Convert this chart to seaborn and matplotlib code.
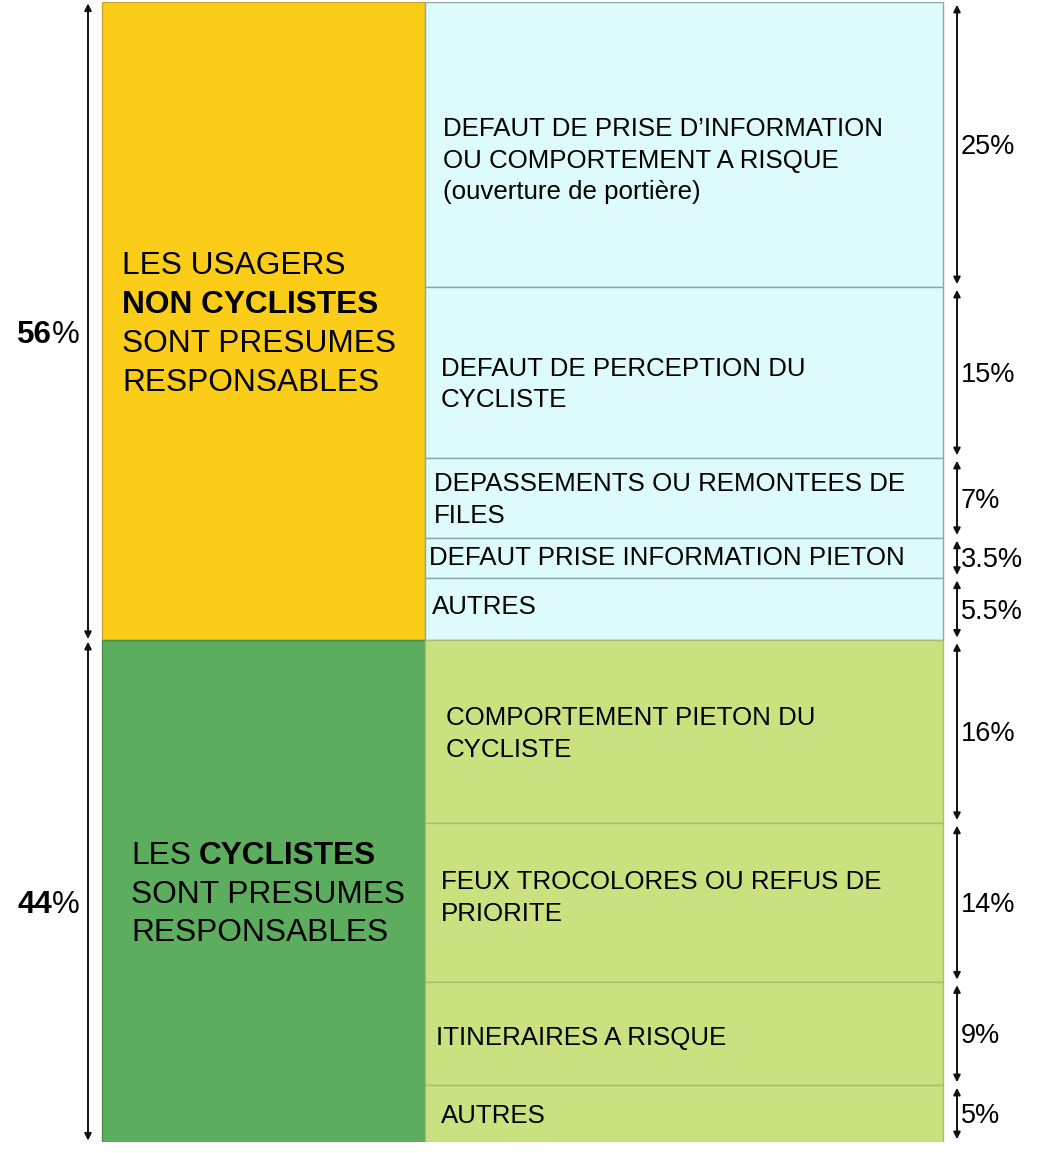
import numpy as np
import matplotlib
matplotlib.use('Agg')
import matplotlib.pyplot as plt
import seaborn as sns

# ---- data ----
group_pct = [56, 44]
group_lines = [
    [[('LES USAGERS', 'normal')],
     [('NON CYCLISTES', 'bold')],
     [('SONT PRESUMES', 'normal')],
     [('RESPONSABLES', 'normal')]],
    [[('LES', 'normal'), ('CYCLISTES', 'bold')],
     [('SONT PRESUMES', 'normal')],
     [('RESPONSABLES', 'normal')]],
]
sub_pct = [25, 15, 7, 3.5, 5.5, 16, 14, 9, 5]
sub_group = [0, 0, 0, 0, 0, 1, 1, 1, 1]
sub_labels = [
    "DEFAUT DE PRISE D\u2019INFORMATION\nOU COMPORTEMENT A RISQUE\n(ouverture de porti\u00e8re)",
    "DEFAUT DE PERCEPTION DU\nCYCLISTE",
    "DEPASSEMENTS OU REMONTEES DE\nFILES",
    "DEFAUT PRISE INFORMATION PIETON",
    "AUTRES",
    "COMPORTEMENT PIETON DU\nCYCLISTE",
    "FEUX TROCOLORES OU REFUS DE\nPRIORITE",
    "ITINERAIRES A RISQUE",
    "AUTRES",
]

# ---- layout / style ----
group_colors = ['#FBCD18', '#5DAD5E']
group_edges = ['#C9A43A', '#4E8F50']
sub_colors = ['#DDFBFB', '#C9E17F']
sub_edges = ['#8FA6A8', '#A7BF6C']
label_x = [443, 441, 434, 429, 432, 446, 441, 436, 441]
label_dy = [14, 10, 0, -2, -4, 0, -7, 2, 0]   # pixels, downwards
left_x = [122, 131]
W, H = 1038, 1153
top_px, bot_px = 2, 1142

sns.set_theme(style='white')
plt.rcParams['font.family'] = ['Liberation Sans', 'DejaVu Sans']
plt.rcParams['text.color'] = 'black'

fig = plt.figure(figsize=(W / 100, H / 100), dpi=100)
ax = fig.add_axes([0, (H - bot_px) / H, 1, (bot_px - top_px) / H])
ax.set_xlim(0, W)
ax.set_ylim(100, 0)
ax.axis('off')

def cap_px(fs):
    return 0.716 * fs * 100 / 72

# left column
g_bottom = np.concatenate([[0], np.cumsum(group_pct)[:-1]])
ax.bar([263.5] * 2, group_pct, width=323, bottom=g_bottom, color=group_colors,
       edgecolor=group_edges, linewidth=1.0, align='center')

# right column
s_bottom = np.concatenate([[0], np.cumsum(sub_pct)[:-1]])
ax.bar([684] * len(sub_pct), sub_pct, width=518, bottom=s_bottom,
       color=[sub_colors[g] for g in sub_group],
       edgecolor=[sub_edges[g] for g in sub_group], linewidth=1.0, align='center')

# group labels inside the left column
fs_big = 22.8
sp_big = 38.7
for gi, lines in enumerate(group_lines):
    yc = g_bottom[gi] + group_pct[gi] / 2
    n = len(lines)
    for li, parts in enumerate(lines):
        off = (li - (n - 1) / 2) * sp_big + cap_px(fs_big) / 2
        prev = None
        for text, weight in parts:
            if prev is None:
                prev = ax.annotate(text, xy=(left_x[gi], yc), xytext=(0, -off),
                                   textcoords='offset pixels', fontsize=fs_big,
                                   fontweight=weight, ha='left', va='baseline')
            else:
                prev = ax.annotate(text, xy=(1, 0), xycoords=prev, xytext=(8, 0),
                                   textcoords='offset pixels', fontsize=fs_big,
                                   fontweight=weight, ha='left', va='bottom')

# sub labels
fs_sub = 18.6
sp_sub = 31.5
for i, lab in enumerate(sub_labels):
    yc = s_bottom[i] + sub_pct[i] / 2
    lines = lab.split('\n')
    n = len(lines)
    for li, line in enumerate(lines):
        off = (li - (n - 1) / 2) * sp_sub + label_dy[i] + cap_px(fs_sub) / 2
        ax.annotate(line, xy=(label_x[i], yc), xytext=(0, -off),
                    textcoords='offset pixels', fontsize=fs_sub,
                    ha='left', va='baseline')

# right arrows and percentages
fs_pct = 19.5
for i, v in enumerate(sub_pct):
    y0, y1 = s_bottom[i], s_bottom[i] + v
    ax.annotate('', xy=(957, y0), xytext=(957, y1),
                arrowprops=dict(arrowstyle='<|-|>', lw=1.4, color='#111111',
                                shrinkA=2, shrinkB=2, mutation_scale=10))
    ax.annotate(f'{v:g}%', xy=(961, (y0 + y1) / 2), xytext=(0, -cap_px(fs_pct) / 2),
                textcoords='offset pixels', fontsize=fs_pct, ha='left', va='baseline')

# left arrows and group percentages
fs_grp = 22.5
for gi, v in enumerate(group_pct):
    y0, y1 = g_bottom[gi], g_bottom[gi] + v
    ax.annotate('', xy=(88, y0), xytext=(88, y1),
                arrowprops=dict(arrowstyle='<|-|>', lw=1.4, color='#111111',
                                shrinkA=1, shrinkB=1, mutation_scale=10))
    yc = (y0 + y1) / 2
    pct = ax.annotate('%', xy=(80, yc), xytext=(0, -11 - cap_px(fs_grp) / 2),
                      textcoords='offset pixels', fontsize=fs_grp, ha='right',
                      va='baseline')
    ax.annotate(f'{v}', xy=(0, 0), xycoords=pct, xytext=(0, 0),
                textcoords='offset pixels', fontsize=fs_grp, fontweight='bold',
                ha='right', va='bottom')

fig.savefig('out.png', dpi=100, facecolor='white')
